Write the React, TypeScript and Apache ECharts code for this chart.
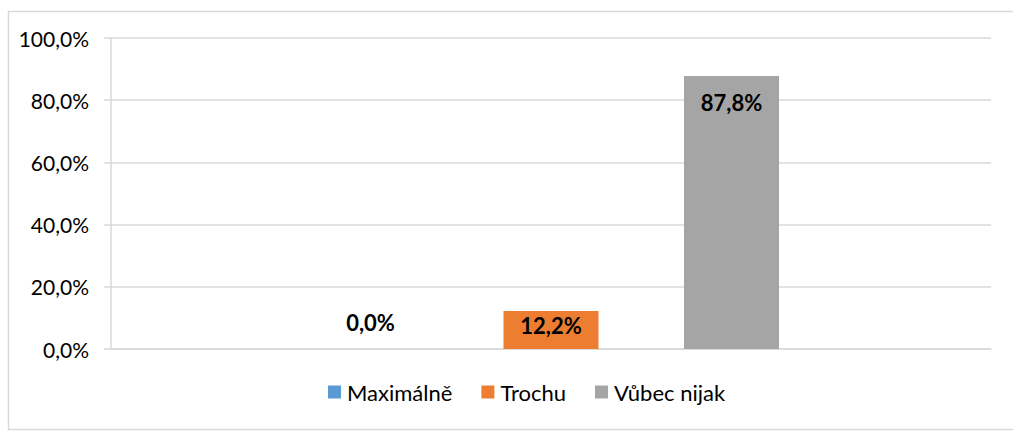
import React, { useEffect, useRef } from "react";
import * as echarts from "echarts";

const categories = [""];
const seriesNames = ["Maximálně", "Trochu", "Vůbec nijak"];
const seriesValues = [0.0, 12.2, 87.8];
const seriesColors = ["#5B9BD5", "#ED7D31", "#A5A5A5"];
const yTicks = [0, 20, 40, 60, 80, 100];

const FONT = "Lato, 'Open Sans', sans-serif";
const labelPos = ["top", "insideTop", "insideTop"];
const labelDist = [16, 3, 16];

export default function App() {
  const ref = useRef<HTMLDivElement>(null);
  useEffect(() => {
    if (!ref.current) return;
    const chart = echarts.init(ref.current, null, { renderer: "svg" });
    const fmt = (v: number) => v.toFixed(1).replace(".", ",") + "%";
    chart.setOption({
      animation: false,
      backgroundColor: "#ffffff",
      graphic: [
        {
          type: "rect",
          shape: { x: 8.5, y: 11.5, width: 1020, height: 418 },
          style: { fill: "none", stroke: "#D9D9D9", lineWidth: 1.5 },
          silent: true,
        },
      ],
      grid: { left: 111, right: 22, top: 38, bottom: 86 },
      legend: {
        data: seriesNames,
        bottom: 27,
        left: 323,
        icon: "rect",
        itemWidth: 13,
        itemHeight: 13,
        itemGap: 29,
        textStyle: { fontFamily: FONT, fontSize: 22, color: "#000", padding: [0, 0, 0, 1] },
      },
      xAxis: {
        type: "category",
        data: categories,
        axisLine: { show: true, lineStyle: { color: "#D9D9D9", width: 1.5 } },
        axisTick: { show: false },
        axisLabel: { show: false },
      },
      yAxis: {
        type: "value",
        min: yTicks[0],
        max: yTicks[yTicks.length - 1],
        interval: 20,
        axisLine: { show: true, lineStyle: { color: "#D9D9D9", width: 1.5 } },
        axisTick: { show: true, length: 7, lineStyle: { color: "#D9D9D9", width: 1.5 } },
        splitLine: { show: true, lineStyle: { color: "#D9D9D9", width: 1.5 } },
        axisLabel: {
          formatter: (v: number) => fmt(v),
          fontFamily: FONT,
          fontSize: 21,
          color: "#000",
          margin: 22,
        },
      },
      series: seriesNames.map((name, i) => ({
        name,
        type: "bar",
        data: [seriesValues[i]],
        barWidth: 95,
        barGap: "90%",
        itemStyle: { color: seriesColors[i] },
        label: {
          show: true,
          position: labelPos[i],
          distance: labelDist[i],
          formatter: (p: any) => fmt(p.value),
          fontFamily: FONT,
          fontSize: 22,
          fontWeight: "bold",
          color: "#000",
        },
      })),
    });
    return () => chart.dispose();
  }, []);
  return (
    <div
      ref={ref}
      style={{ position: "fixed", left: 0, top: 0, width: 1013, height: 435 }}
    />
  );
}
